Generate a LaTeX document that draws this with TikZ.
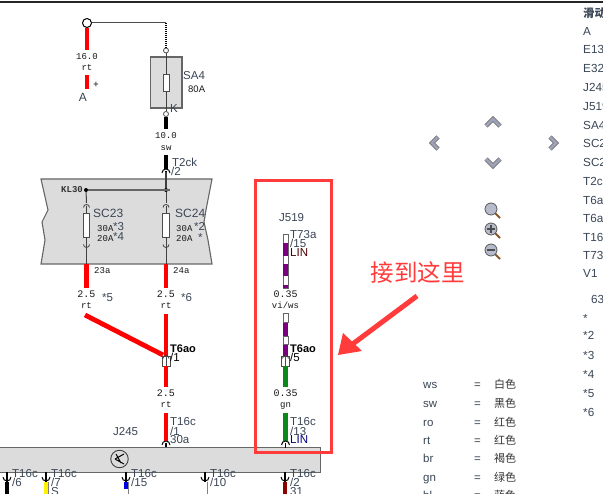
\documentclass[tikz,border=0pt]{standalone}
\usepackage{fontspec}
\setmainfont{Liberation Sans}
\newfontfamily\monof{Liberation Mono}
\newfontfamily\cjkf{Noto Sans CJK SC}
\definecolor{wred}{HTML}{FF0000}
\definecolor{wpur}{HTML}{7A0080}
\definecolor{wgrn}{HTML}{0A8A1A}
\definecolor{boxg}{HTML}{DCDCDC}
\definecolor{lab}{HTML}{3A4656}
\definecolor{anno}{HTML}{FF3B3B}
\definecolor{navb}{HTML}{9EA3BA}
\tikzset{
 x=1pt,y=-1pt,
 lbl/.style={font=\fontsize{11.5}{12}\selectfont,text=lab,anchor=west,inner sep=0pt,text height=8.2pt,text depth=0pt},
 lblb/.style={lbl,font=\fontsize{11}{12}\selectfont\bfseries,text=black},
 amp/.style={font=\monof\fontsize{9}{10}\selectfont,text=black!90,anchor=west,inner sep=0pt,text height=6pt,text depth=0pt},
 gauge/.style={font=\monof\fontsize{9}{10}\selectfont,text=black!90,inner sep=0pt,text height=6pt,text depth=0pt},
 gaugel/.style={gauge,font=\monof\fontsize{10}{11}\selectfont},
 list/.style={font=\fontsize{11.7}{13}\selectfont,text=lab,anchor=west,inner sep=0pt,text height=8.4pt,text depth=0pt},
 cn/.style={font=\cjkf\fontsize{11}{12}\selectfont,text=black!80,anchor=west,inner sep=0pt},
 redw/.style={draw=wred,line width=4.8pt},
 blkw/.style={draw=black,line width=4pt},
 grnw/.style={draw=wgrn,line width=4.5pt},
 whtw/.style={draw=black!60,fill=white,line width=.7pt},
 thin wire/.style={draw=black!75,line width=1pt},
 fusebox/.style={draw=black!70,fill=white,line width=.8pt,minimum width=6.5pt,inner sep=0pt},
 ring/.style={circle,draw=black!70,fill=white,line width=.8pt,inner sep=0pt,minimum size=5pt},
 dotn/.style={circle,fill=black,inner sep=0pt,minimum size=4pt},
 boxfill/.style={fill=boxg,draw=black!60,line width=1.1pt},
 chev/.style={line width=4.5pt,draw=black!55,miter limit=10},
 chevi/.style={line width=2.8pt,draw=navb,miter limit=10},
 socket/.pic={\draw[black,line width=1pt] (-4,1) arc[start angle=180,end angle=360,radius=4];
              \draw[black,line width=1.3pt] (0,-1) -- (0,4);},
 jarc/.pic={\draw[black!75,line width=.8pt] (-3,1.5) arc[start angle=180,end angle=360,radius=3];},
 jarcd/.pic={\draw[black!75,line width=.8pt] (-3,-1.5) arc[start angle=180,end angle=0,radius=3];},
 mag/.pic={\draw[brown!70!black,line width=2pt] (4,4) -- (9,9);
           \node[circle,draw=black!65,fill=navb!75,line width=.8pt,minimum size=12pt,inner sep=0pt] at (0,0) {};},
}
\begin{document}
\begin{tikzpicture}
\clip (0,0) rectangle (603,494);
\fill[white] (0,0) rectangle (603,494);
\draw[black!85,line width=1.6pt] (0,2) -- (603,2);

% --- battery and SA4
\coordinate (ttop) at (166,23);
\coordinate (w1a) at (87,75); \coordinate (w1b) at (87,89);
\node[circle,draw=black,fill=white,line width=1pt,minimum size=9pt,inner sep=0pt] (bat) at (87,23) {};
\node[gauge] (g16a) at (87,57) {16.0};
\node[gauge] (g16b) at (87,68) {rt};
\draw[redw] (bat.south) -- (87,50);
\draw[redw] (w1a) -- (w1b);
\node[font=\fontsize{9}{10}\selectfont\bfseries,text=black!70,inner sep=0pt] (plus) at (96,85) {+};
\node[font=\fontsize{12}{13}\selectfont,text=lab,inner sep=0pt] (lA) at (83,97) {A};
\draw[draw=black!70,line width=1pt] (bat.east) -- (ttop);

\node[boxfill,minimum width=31.5pt,minimum height=51pt,inner sep=0pt] (sa4) at (166.2,82.5) {};
\node[ring] (r1) at (166,50.5) {};
\node[ring] (r2) at (166,114) {};
\draw[black,line width=1.6pt,dash pattern=on 1.2pt off .8pt] (ttop) -- (r1.north);
\draw[thin wire] (r1.south) -- (r2.north);
\node[fusebox,minimum height=17pt] (f0) at (166.3,83) {};
\node[lbl] (tSA) at (183,75) {SA4};
\node[amp,font=\fontsize{9.5}{10}\selectfont] (t80) at (188,90) {80A};
\node[lbl] (tK) at (170,108) {K};
\node[gauge] (g10a) at (166,136) {10.0};
\node[gauge] (g10b) at (166,148) {sw};
\draw[blkw] (r2.south) -- (166,129);

% --- fuse carrier
\path[boxfill] (41,179) -- (212,179) -- (206,210) -- (204,222) -- (208,240) -- (212,264)
  -- (41,264) -- (45,240) -- (42,222) -- (48,210) -- cycle;
\coordinate (k1) at (86,190); \coordinate (k2) at (166,190); \coordinate (k3) at (170,190);
\node[dotn] (d1) at (k1) {};
\node[dotn] (d2) at (k2) {};
\draw[draw=black!60,line width=1.6pt] (d1) -- (k3);
\node[amp,font=\monof\fontsize{9}{10}\selectfont\bfseries,text=black!80] (tKL) at (61,190) {KL30};
\coordinate (wb1) at (166,155);
\draw[blkw] (wb1) -- (166,169);
\pic at (166,172) {socket};
\draw[thin wire,line width=1.3pt] (166,172) -- (d2);
\node[lbl] (tT2) at (172,162) {T2ck};
\node[lbl] (tT2n) at (171,171) {/2};

\node[fusebox,minimum height=24pt] (f1) at (86.5,225) {};
\node[fusebox,minimum height=24pt] (f2) at (166,225) {};
\coordinate (b1) at (86.5,264); \coordinate (b2) at (166,264);
\draw[thin wire] (d1) -- (86.5,203);
\draw[thin wire] (d2) -- (166,203);
\foreach \xx in {86.5,166}{
  \pic at (\xx,206) {jarc}; \pic at (\xx,246) {jarcd};
  \draw[thin wire] (\xx,206) -- (\xx,213);
  \draw[thin wire] (\xx,237) -- (\xx,247);
  \draw[thin wire] (\xx,247) -- (\xx,264);
}
\node[lbl,font=\fontsize{12}{13}\selectfont] (tS23) at (93,213) {SC23};
\node[lbl,font=\fontsize{12}{13}\selectfont] (tS24) at (175,213) {SC24};
\node[amp] (a1) at (97,229) {30A};
\node[amp] (a2) at (97,239) {20A};
\node[amp] (a3) at (176,229) {30A};
\node[amp] (a4) at (176,239) {20A};
\node[lbl] (s3) at (113,226) {*3};
\node[lbl] (s4) at (113,236) {*4};
\node[lbl] (s2) at (194,226) {*2};
\node[lbl] (s1) at (198,237) {*};
\node[amp] (t23) at (94,271) {23a};
\node[amp] (t24) at (173,271) {24a};

% --- 2.5 rt pair
\node[gaugel] (g1a) at (86.5,295) {2.5};
\node[gauge] (g1b) at (86.5,306) {rt};
\node[gaugel] (g2a) at (166,295) {2.5};
\node[gauge] (g2b) at (166,306) {rt};
\node[lbl] (s5) at (102,297) {*5};
\node[lbl] (s6) at (181,297) {*6};
\draw[redw] (b1) -- (86.5,288);
\draw[redw] (b2) -- (166,288);

\node[draw=black!70,fill=white,line width=.7pt,minimum width=8pt,minimum height=10pt,inner sep=0pt] (c1) at (166,361) {};
\draw[black!70,line width=.7pt] (c1.north) -- (c1.south);
\coordinate (dg1) at (85,315); \coordinate (dg2) at (163,355); \coordinate (rt2t) at (166,314);
\draw[redw] (dg1) -- (dg2);
\draw[redw] (rt2t) -- (c1.north);
\pic at (166,357) {jarc};
\node[lblb] (t6a) at (170,348) {T6ao};
\node[lbl,text=black] (t6n) at (170,357) {/1};
\node[gaugel] (g3a) at (166,394) {2.5};
\node[gauge] (g3b) at (166,405) {rt};
\draw[redw] (c1.south) -- (166,387);
\coordinate (w3t) at (166,413);
\draw[redw] (w3t) -- (166,441);
\pic at (166,444) {socket};
\node[lbl] (t16a) at (170,421) {T16c};
\node[lbl] (t16an) at (170,431) {/1};
\node[lbl] (t16b) at (170,439) {30a};
\node[lbl] (tJ245) at (113,431) {J245};

% --- J245 box
\node[boxfill,anchor=north west,minimum width=330pt,minimum height=25pt,inner sep=0pt] (j245) at (-10,447) {};
\node[circle,draw=black!75,line width=.9pt,minimum size=17.5pt,inner sep=0pt,fill=boxg] (sym) at (119.5,459) {};
\draw[black,line width=1pt] (115,459) -- (124,454) (115,459) -- (124,464) (116,454) -- (121,463);
\draw[black!50,line width=5pt] (46,482) -- (46,496);
\draw[yellow,line width=4pt] (46,482) -- (46,496);
\draw[black,line width=4.5pt] (7,482) -- (7,496);
\draw[black!50,line width=5pt] (126,482) -- (126,496);
\draw[blue!90!black,line width=4pt] (126,482) -- (126,489);
\draw[white,line width=4pt] (126,489) -- (126,496);
\draw[black!50,line width=5pt] (205,482) -- (205,496);
\draw[white,line width=4pt] (205,482) -- (205,496);
\draw[red!55!black,line width=4.5pt] (285,482) -- (285,496);
\foreach \xx in {7,46,126,205,285}{
  \draw[black,line width=1pt] (\xx-4,477) arc[start angle=180,end angle=0,radius=4];
  \draw[black,line width=1.3pt] (\xx,472) -- (\xx,482);
}
\foreach \xx/\tx/\ty in {7/6/,46/7/S,126/15/,205/10/,285/2/31}{
  \node[lbl] at (\xx+5,473) {T16c};
  \node[lbl] at (\xx+5,482) {/\tx};
  \node[lbl] at (\xx+5,491) {\ty};
}

% --- J519
\node[lbl] (tJ519) at (279,217) {J519};
\node[lbl] (t73) at (290,234) {T73a};
\node[lbl] (t73n) at (290,243) {/15};
\node[lbl,text=black!70!red] (t73l) at (290,252) {LIN};
\draw[whtw] (283,234) rectangle (288,288);
\foreach \ya/\yb in {243/256,264/276,285/288,322/336,344/356}{\fill[wpur] (283,\ya) rectangle (288,\yb);}
\draw[whtw] (283,313) rectangle (288,322);
\draw[whtw] (283,336) rectangle (288,344);
\node[gaugel] (g4a) at (285.5,295) {0.35};
\node[gauge] (g4b) at (285.5,306) {vi/ws};
\node[draw=black!70,fill=white,line width=.7pt,minimum width=8pt,minimum height=10pt,inner sep=0pt] (c2) at (285.5,361) {};
\draw[black!70,line width=.7pt] (c2.north) -- (c2.south);
\pic at (285.5,357) {jarc};
\node[lblb] (t6b) at (290,348) {T6ao};
\node[lbl,text=black] (t6bn) at (290,357) {/5};
\node[gaugel] (g5a) at (285.5,394) {0.35};
\node[gauge] (g5b) at (285.5,405) {gn};
\draw[grnw] (c2.south) -- (285.5,387);
\coordinate (w5t) at (285.5,413);
\draw[grnw] (w5t) -- (285.5,441);
\pic at (285.5,444) {socket};
\node[lbl] (t16d) at (290,421) {T16c};
\node[lbl] (t16dn) at (290,431) {/13};
\node[lbl,text=blue!50!black] (t16e) at (290,439) {LIN};

% --- annotation
\node[draw=anno,line width=3pt,minimum width=76pt,minimum height=272pt,inner sep=0pt] (mk) at (293,317) {};
\node[font=\cjkf\fontsize{23.5}{24}\selectfont,text=anno,inner sep=0pt] (note) at (417.5,273) {接到这里};
\coordinate (arrT) at (417,296); \coordinate (arrH) at (350,346);
\draw[anno,line width=5pt] (arrT) -- (arrH);
\fill[anno] (338,355) -- (343,333) -- (362,351) -- cycle;

% --- navigation
\foreach \pa/\pb/\pc in {{(486,126)/(493,119)/(500,126)},{(486,159)/(493,166)/(500,159)},{(438,137)/(432,143)/(438,149)},{(550,137)/(556,143)/(550,149)}}{
  \draw[chev] \pa -- \pb -- \pc;
  \draw[chevi] \pa -- \pb -- \pc;
}
\pic at (491,209) {mag};
\pic at (491,229) {mag};
\pic at (491,250) {mag};
\draw[black!70,line width=1.2pt] (487,229) -- (495,229) (491,225) -- (491,233);
\draw[black!70,line width=1.2pt] (487,250) -- (495,250);

% --- right list
\node[anchor=west,inner sep=0pt,text=lab,font=\cjkf\fontsize{11.5}{12}\selectfont\bfseries] (h) at (583,13) {滑动};
\foreach \t/\y in {A/31,E13/49,E32/68,J245/87,J519/106,SA4/125,SC23/143,SC24/162,T2ck/181,T6ao/200,T6ap/218,T16c/237,T73a/255,V1/273,*/318,*2/335,*3/355,*4/374,*5/393,*6/412}{
  \node[list] at (583,\y) {\t};
}
\node[list] (n63) at (591,299) {63};

% --- colour legend
\foreach \k/\v/\y in {ws/白色/384,sw/黑色/403,ro/红色/422,rt/红色/440,br/褐色/458,gn/绿色/477,bl/蓝色/495}{
  \node[list,font=\fontsize{11.5}{12}\selectfont] at (423,\y) {\k};
  \node[list,font=\fontsize{11.5}{12}\selectfont] at (474,\y) {=};
  \node[cn] at (494,\y) {\v};
}
\end{tikzpicture}
\end{document}
